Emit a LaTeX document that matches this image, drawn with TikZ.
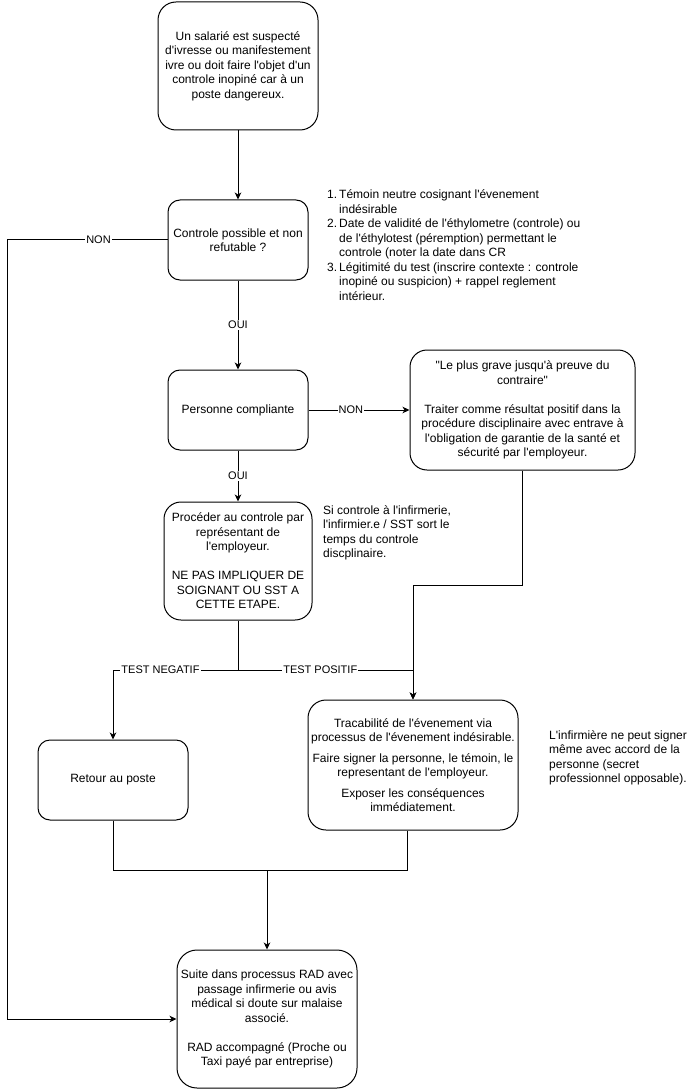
\documentclass[tikz,border=0pt]{standalone}
\usepackage{fontspec}
\setmainfont{Liberation Sans}[Ligatures=TeXOff]
\usetikzlibrary{arrows.meta}
\begin{document}
\begin{tikzpicture}[x=1pt,y=-1pt,
  box/.style={draw, line width=1pt, rounded corners=#1, align=center, inner sep=0pt, font=\fontsize{12}{14.5}\selectfont},
  box/.default=12pt,
  note/.style={align=left, inner sep=0pt, font=\fontsize{12}{14.5}\selectfont},
  line/.style={line width=1pt},
  conn/.style={line width=1pt, -{Stealth[length=7pt,width=6.5pt,inset=2pt]}},
  lbl/.style={fill=white, inner sep=1pt, font=\fontsize{11}{13}\selectfont}
]
\useasboundingbox (0,0) rectangle (688,1091);

\node[box=18pt, minimum width=160pt, minimum height=128pt] (top) at (238,66)
  {Un salarié est suspecté\\d'ivresse ou manifestement\\ivre ou doit faire l'objet d'un\\controle inopiné car à un\\poste dangereux.};
\node[box=12pt, minimum width=140pt, minimum height=80pt] (dec) at (238,240)
  {Controle possible et non\\refutable ?};
\node[box=12pt, minimum width=140pt, minimum height=80pt] (comp) at (238,410)
  {Personne compliante};
\node[box=17pt, minimum width=225pt, minimum height=120pt] (nonbox) at (522.5,410)
  {"Le plus grave jusqu'à preuve du\\contraire"\\[14.5pt]Traiter comme résultat positif dans la\\procédure disciplinaire avec entrave à\\l'obligation de garantie de la santé et\\sécurité par l'employeur.};
\node[box=17pt, minimum width=148pt, minimum height=118pt] (proc) at (238,561)
  {Procéder au controle par\\représentant de\\l'employeur.\\[14.5pt]NE PAS IMPLIQUER DE\\SOIGNANT OU SST A\\CETTE ETAPE.};
\node[box=12pt, minimum width=150pt, minimum height=80pt] (ret) at (113,780)
  {Retour au poste};
\node[box=18pt, minimum width=210pt, minimum height=130pt] (trac) at (413,765)
  {Tracabilité de l'évenement via\\processus de l'évenement indésirable.\\[6pt]Faire signer la personne, le témoin, le\\representant de l'employeur.\\[6pt]Exposer les conséquences\\immédiatement.};
\node[box=20pt, minimum width=180pt, minimum height=138pt] (fin) at (267,1019)
  {Suite dans processus RAD avec\\passage infirmerie ou avis\\médical si doute sur malaise\\associé.\\[14.5pt]RAD accompagné (Proche ou\\Taxi payé par entreprise)};

\node[note, anchor=north west] (list) at (327,189.5)
  {\makebox[12pt][l]{1.}Témoin neutre cosignant l'évenement\\
   \hspace*{12pt}indésirable\\
   \makebox[12pt][l]{2.}Date de validité de l'éthylometre (controle) ou\\
   \hspace*{12pt}de l'éthylotest (péremption) permettant le\\
   \hspace*{12pt}controle (noter la date dans CR\\
   \makebox[12pt][l]{3.}Légitimité du test (inscrire contexte : controle\\
   \hspace*{12pt}inopiné ou suspicion) + rappel reglement\\
   \hspace*{12pt}intérieur.};
\node[note, anchor=north west] (si) at (323,505)
  {Si controle à l'infirmerie,\\l'infirmier.e / SST sort le\\temps du controle\\discplinaire.};
\node[note, anchor=north west] (inf) at (549,730)
  {L'infirmière ne peut signer\\même avec accord de la\\personne (secret\\professionnel opposable).};

\coordinate (nonL) at (7,240);
\coordinate (split) at (238,670);
\coordinate (nb) at (522,585);
\coordinate (merge) at (267,870);

\draw[conn] (top) -- (dec);
\draw[conn] (dec) -- node[lbl]{OUI} (comp);
\draw[conn] (comp) -- node[lbl, pos=0.42]{NON} (nonbox);
\draw[conn] (comp) -- node[lbl]{OUI} (proc);
\draw[conn] (dec.west) -- node[lbl, pos=0.43]{NON} (nonL) |- (fin.west);
\draw[line] (proc.south) -- (split);
\draw[conn] (split) -| node[lbl, pos=0.31]{TEST NEGATIF} (ret.north);
\draw[conn] (split) -| node[lbl, pos=0.235]{TEST POSITIF} (trac.north);
\draw[conn] (nonbox.south) -- (nonbox.south |- nb) -| (trac.north);
\draw[line] (ret.south) |- (merge);
\draw[line] ([xshift=-6pt]trac.south) |- (merge);
\draw[conn] (merge) -- (fin.north);
\end{tikzpicture}
\end{document}
